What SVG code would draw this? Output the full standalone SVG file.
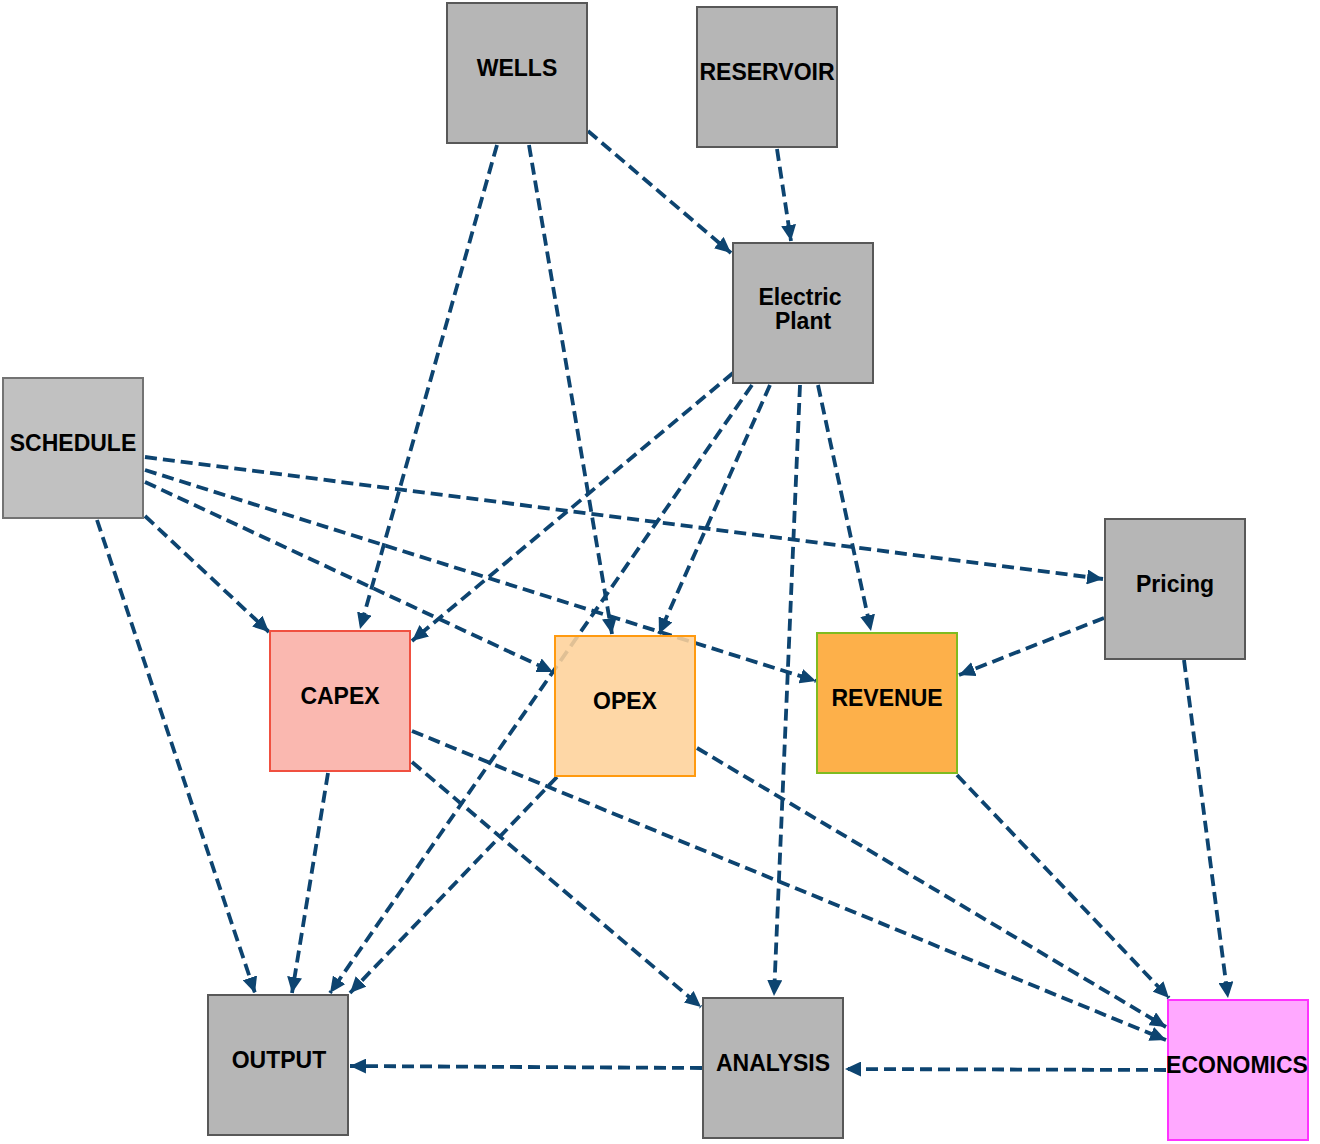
<svg xmlns="http://www.w3.org/2000/svg" width="1320" height="1144" viewBox="0 0 1320 1144">
<style>
.e{stroke:#0d4470;stroke-width:3.8;stroke-dasharray:12 6;fill:none;marker-end:url(#ah)}
.n{fill:#b6b6b6;stroke:#585858;stroke-width:2}
.t{font-family:"Liberation Sans",Arial,sans-serif;font-weight:bold;font-size:23px;fill:#000;text-anchor:middle}
</style>
<defs>
<marker id="ah" viewBox="0 0 16 15" refX="16" refY="7.5" markerWidth="16" markerHeight="15" markerUnits="userSpaceOnUse" orient="auto">
<path d="M0,0 L16,7.5 L0,15 z" fill="#0d4470"/>
</marker>
</defs>
<rect width="1320" height="1144" fill="#fff"/>
<g id="connectors">
<line class="e" x1="588" y1="131" x2="731" y2="253"/>
<line class="e" x1="777" y1="149" x2="791" y2="241"/>
<line class="e" x1="497" y1="145" x2="360" y2="629"/>
<line class="e" x1="529" y1="145" x2="612" y2="634"/>
<line class="e" x1="733" y1="373" x2="412" y2="641"/>
<line class="e" x1="752" y1="385" x2="330" y2="993"/>
<line class="e" x1="770" y1="385" x2="659" y2="634"/>
<line class="e" x1="800" y1="385" x2="774" y2="996"/>
<line class="e" x1="818" y1="385" x2="871" y2="631"/>
<line class="e" x1="145" y1="457" x2="1103" y2="579"/>
<line class="e" x1="145" y1="470" x2="816" y2="681"/>
<line class="e" x1="145" y1="482" x2="553" y2="672"/>
<line class="e" x1="145" y1="516" x2="269" y2="632"/>
<line class="e" x1="97" y1="520" x2="255" y2="993"/>
<line class="e" x1="1104" y1="618" x2="959" y2="675"/>
<line class="e" x1="1184" y1="660" x2="1228" y2="998"/>
<line class="e" x1="328" y1="773" x2="292" y2="993"/>
<line class="e" x1="412" y1="731" x2="1166" y2="1040"/>
<line class="e" x1="412" y1="762" x2="701" y2="1007"/>
<line class="e" x1="557" y1="777" x2="350" y2="993"/>
<line class="e" x1="697" y1="748" x2="1166" y2="1027"/>
<line class="e" x1="957" y1="775" x2="1169" y2="998"/>
<line class="e" x1="1166" y1="1070" x2="845" y2="1069"/>
<line class="e" x1="702" y1="1068" x2="350" y2="1066"/>
</g>
<g id="wells"><rect class="n" x="447" y="3" width="140" height="140"/><text class="t" x="517" y="76">WELLS</text></g>
<g id="reservoir"><rect class="n" x="697" y="7" width="140" height="140"/><text class="t" x="767" y="80">RESERVOIR</text></g>
<g id="electric-plant"><rect class="n" x="733" y="243" width="140" height="140"/><text class="t" x="800" y="305">Electric</text><text class="t" x="803" y="329">Plant</text></g>
<g id="schedule"><rect class="n" x="3" y="378" width="140" height="140" style="fill:#c1c1c1;stroke:#737373"/><text class="t" x="73" y="451">SCHEDULE</text></g>
<g id="pricing"><rect class="n" x="1105" y="519" width="140" height="140"/><text class="t" x="1175" y="592">Pricing</text></g>
<g id="capex"><rect x="270" y="631" width="140" height="140" fill="#fab8b0" stroke="#f05040" stroke-width="2"/><text class="t" x="340" y="704">CAPEX</text></g>
<g id="opex"><rect x="555" y="636" width="140" height="140" fill="#fed29a" fill-opacity="0.88" stroke="#ff9a10" stroke-width="2"/><text class="t" x="625" y="709">OPEX</text></g>
<g id="revenue"><rect x="817" y="633" width="140" height="140" fill="#fdb04a" stroke="#80bb20" stroke-width="2"/><text class="t" x="887" y="706">REVENUE</text></g>
<g id="output"><rect class="n" x="208" y="995" width="140" height="140"/><text class="t" x="279" y="1068">OUTPUT</text></g>
<g id="analysis"><rect class="n" x="703" y="998" width="140" height="140"/><text class="t" x="773" y="1071">ANALYSIS</text></g>
<g id="economics"><rect x="1168" y="1000" width="140" height="140" fill="#ffa8ff" stroke="#ff33ff" stroke-width="2"/><text class="t" x="1237" y="1073">ECONOMICS</text></g>
</svg>
